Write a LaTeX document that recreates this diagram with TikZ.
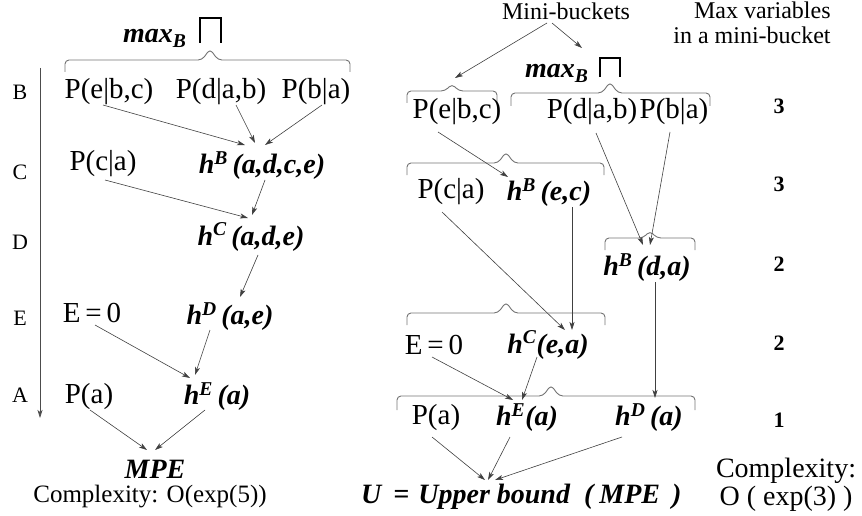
\documentclass[tikz,border=0pt]{standalone}
\usepackage{fontspec}
\setmainfont{Liberation Serif}
\usepackage{tikz}
\usetikzlibrary{arrows.meta, calc}

\begin{document}
\begin{tikzpicture}[x=1pt, y=-1pt, >={Stealth[length=8pt, width=5pt, inset=2pt]},
    pterm/.style={font=\fontsize{29}{32}\selectfont, inner sep=1pt},
    hterm/.style={font=\fontsize{28}{32}\selectfont\bfseries\itshape, inner sep=1pt},
    varlbl/.style={font=\fontsize{22}{24}\selectfont},
    count/.style={font=\fontsize{22}{24}\selectfont\bfseries},
    note/.style={font=\fontsize{24}{25}\selectfont},
    brace/.style={draw=black!55, line width=0.9pt, rounded corners=4pt},
    prodsym/.style={line width=1.5pt},
    link/.style={->, draw=black!75, line width=0.6pt}]
    \useasboundingbox (0,0) rectangle (862,516);

    % ---- Left: exact bucket elimination ----
    \node[hterm, anchor=base west, inner sep=0pt] (maxL) at (123,43) {max\textsubscript{B}};
    \draw[prodsym] (200,43) -- (200,18) -- (221,18) -- (221,43);
    \draw[brace] (65,72) -- (65,60) -- (202,60) -- (210,49) -- (218,60) -- (350,60) -- (350,72);
    % Ordering
    \draw[->, draw=black!70, line width=0.7pt] (40,68) -- (40,418);
    \node[varlbl] (vB) at (20,92) {B};
    \node[varlbl] (vC) at (20,172) {C};
    \node[varlbl] (vD) at (20,242) {D};
    \node[varlbl] (vE) at (20,318) {E};
    \node[varlbl] (vA) at (20,395) {A};
    % Buckets
    \node[pterm] (ebc) at (109,92) {P(e|b,c)};
    \node[pterm] (dab) at (221,92) {P(d|a,b)};
    \node[pterm] (ba) at (316,92) {P(b|a)};
    \node[pterm] (ca) at (103,164) {P(c|a)};
    \node[hterm] (hB) at (262,166) {h\textsuperscript{B}\,(a,d,c,e)};
    \node[hterm] (hC) at (251,237) {h\textsuperscript{C}\,(a,d,e)};
    \node[pterm] (eq0) at (92,313) {E\,=\,0};
    \node[hterm] (hD) at (230,317) {h\textsuperscript{D}\,(a,e)};
    \node[pterm] (pa) at (89,397) {P(a)};
    \node[hterm] (hE) at (217,397) {h\textsuperscript{E}\,(a)};
    \node[hterm, inner sep=0pt] (mpe) at (155,469) {MPE};
    \node[font=\fontsize{25}{28}\selectfont, inner sep=0pt] (cplxL) at (150,497) {Complexity: O(exp(5))};
    % Messages
    \draw[link] ($(ebc)+(-6,13)$) -- ($(hB)+(-17,-21)$);
    \draw[link] ($(dab)+(15,13)$) -- ($(hB)+(-7,-23)$);
    \draw[link] ($(ba)+(6,13)$) -- ($(hB)+(3,-21)$);
    \draw[link] ($(ca)+(2,16)$) -- ($(hC)+(-3,-19)$);
    \draw[link] ($(hB)+(3,14)$) -- ($(hC)+(1,-22)$);
    \draw[link] ($(hC)+(7,18)$) -- ($(hD)+(10,-20)$);
    \draw[link] ($(eq0)+(3,12)$) -- ($(hE)+(-27,-19)$);
    \draw[link] ($(hD)+(-20,13)$) -- ($(hE)+(-22,-22)$);
    \draw[link] ($(pa)+(1,13)$) -- ($(mpe)+(-8,-19)$);
    \draw[link] ($(hE)+(-12,13)$) -- ($(mpe)+(0,-19)$);

    % ---- Right: mini-bucket elimination ----
    \node[note] (minib) at (566,11) {Mini-buckets};
    \node[note, align=right] (maxvar) at (752,23) {Max variables\\in a mini-bucket};
    \node[hterm, anchor=base west, inner sep=0pt] (maxR) at (525,78) {max\textsubscript{B}};
    \draw[prodsym] (600,77) -- (600,58) -- (620,58) -- (620,77);
    \draw[link] ($(minib)+(-19,12)$) -- ($(maxR.base west)+(-70,0)$);
    \draw[link] ($(minib)+(-14,12)$) -- ($(maxR.base west)+(57,-30)$);
    % Mini-bucket braces
    \draw[brace] (407,103) -- (407,91) -- (445,91) -- (452,84) -- (459,91) -- (497,91) -- (497,103);
    \draw[brace] (511,106) -- (511,93) -- (602,93) -- (610,82) -- (618,93) -- (710,93) -- (710,106);
    \draw[brace] (407,175) -- (407,163) -- (498,163) -- (506,152) -- (514,163) -- (604,163) -- (604,175);
    \draw[brace] (605,250) -- (605,238) -- (643,238) -- (650,231) -- (657,238) -- (695,238) -- (695,250);
    \draw[brace] (407,325) -- (407,313) -- (498,313) -- (506,302) -- (514,313) -- (605,313) -- (605,325);
    \draw[brace] (397,410) -- (397,396) -- (543,396) -- (551,385) -- (559,396) -- (695,396) -- (695,410);
    % Mini-buckets
    \node[pterm] (ebcR) at (457,112) {P(e|b,c)};
    \node[pterm] (dabR) at (592,112) {P(d|a,b)};
    \node[pterm] (baR) at (674,112) {P(b|a)};
    \node[pterm] (caR) at (451,192) {P(c|a)};
    \node[hterm] (hBec) at (549,193) {h\textsuperscript{B}\,(e,c)};
    \node[hterm] (hBda) at (647,268) {h\textsuperscript{B}\,(d,a)};
    \node[pterm] (eq0R) at (434,345) {E\,=\,0};
    \node[hterm] (hCR) at (548,345) {h\textsuperscript{C}(e,a)};
    \node[pterm] (paR) at (436,418) {P(a)};
    \node[hterm] (hER) at (527,418) {h\textsuperscript{E}(a)};
    \node[hterm] (hDR) at (649,418) {h\textsuperscript{D}\,(a)};
    % Variables per mini-bucket
    \node[count] (nB) at (779,106) {3};
    \node[count] (nC) at (779,184) {3};
    \node[count] (nD) at (779,264) {2};
    \node[count] (nE) at (779,343) {2};
    \node[count] (nA) at (779,420) {1};
    \node[font=\fontsize{28}{28}\selectfont\bfseries\itshape, anchor=base west, inner sep=0pt] (ub) at (361,503)
        {U\hspace{12pt}=\hspace{9pt}Upper bound\hspace{14pt}(\hspace{6pt}MPE\hspace{12pt})};
    \node[font=\fontsize{28}{28}\selectfont, align=center, anchor=north] (cplxR) at (786,455) {Complexity:\\O ( exp(3) )};
    % Messages
    \draw[link] ($(ebcR)+(-19,20)$) -- ($(hBec)+(-41,-16)$);
    \draw[link] ($(dabR)+(4,21)$) -- ($(hBda)+(-4,-23)$);
    \draw[link] ($(baR)+(-4,20)$) -- ($(hBda)+(3,-23)$);
    \draw[link] ($(caR)+(-9,20)$) -- ($(hCR)+(17,-15)$);
    \draw[link] ($(hBec)+(23,14)$) -- ($(hCR)+(24,-15)$);
    \draw[link] ($(hBda)+(8,14)$) -- ($(hDR)+(6,-20)$);
    \draw[link] ($(eq0R)+(-2,12)$) -- ($(hER)+(-14,-18)$);
    \draw[link] ($(hCR)+(-11,12)$) -- ($(hER)+(-5,-18)$);
    \draw[link] ($(paR)+(-4,19)$) -- ($(ub.base west)+(124,-23)$);
    \draw[link] ($(hER)+(-17,19)$) -- ($(ub.base west)+(127,-23)$);
    \draw[link] ($(hDR)+(-27,19)$) -- ($(ub.base west)+(134,-23)$);
\end{tikzpicture}
\end{document}
